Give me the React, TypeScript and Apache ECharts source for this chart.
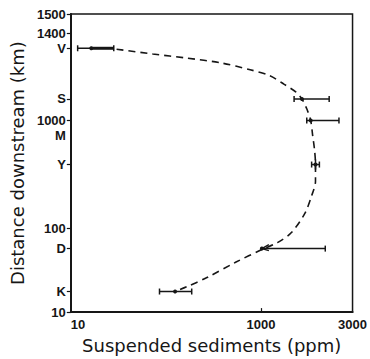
import React, { useEffect, useRef } from "react";
import * as echarts from "echarts";

// Y axis is a schematic (non-uniform) distance scale: positions in axis units (0 = bottom, 100 = top)
const yTickLabels = ["1500", "1400", "V", "S", "1000", "M", "Y", "100", "D", "K", "10"];
const yTickPos = [100, 93.4, 88.5, 71.5, 64.3, 59.4, 49.5, 28.2, 21.3, 6.9, 0];
const yTickHasMark = [true, true, true, true, true, false, true, true, true, true, true];

// X axis (log scale, ppm) tick labels as printed on the figure
const xTickLabels = ["10", "1000", "3000"];
const xMin = 10;
const xMax = 9200;
const xTickPos = [10, 1000, xMax];

// Stations: name, axis position, low, mean, high (ppm)
const stations = ["V", "S", "M", "Y", "D", "K"];
const stationPos = [88.5, 71.5, 64.3, 49.5, 21.3, 6.9];
const sedLow = [11.8, 2233, 3035, 3414, 1023, 85.7];
const sedMean = [16.4, 2700, 3337, 3750, 1023, 125];
const sedHigh = [28.3, 5224, 6622, 4121, 4753, 187];

// Dashed trend curve
const trendX = [30.3, 72.7, 166, 380, 771, 1236, 1762, 2339, 2700, 3035, 3337, 3500, 3665, 3750, 3750, 3414, 2897, 2080, 1493, 1023, 541, 267, 166, 125];
const trendY = [88.2, 86.6, 85.2, 83.6, 81.3, 79.3, 76.4, 73.8, 71.5, 68.2, 64.3, 59.3, 54.4, 49.5, 43.9, 39.0, 33.1, 26.6, 23.3, 21.0, 16.7, 11.5, 8.5, 6.9];

const INK = "#161616";
const FONT = "'Liberation Sans', Arial, sans-serif";
const NAME_FONT = "'DejaVu Sans', Verdana, sans-serif";

export default function App() {
  const ref = useRef<HTMLDivElement>(null);
  useEffect(() => {
    document.body.style.margin = "0";
    if (!ref.current) return;
    const chart = echarts.init(ref.current, null, { renderer: "svg" });
    const labelFor = (v: number) => {
      for (let i = 0; i < yTickPos.length; i++) if (Math.abs(yTickPos[i] - v) < 1e-6) return yTickLabels[i];
      return "";
    };
    const xLabelFor = (v: number) => {
      for (let i = 0; i < xTickPos.length; i++) if (Math.abs(xTickPos[i] - v) / xTickPos[i] < 1e-6) return xTickLabels[i];
      return "";
    };
    const barData = stations.map((s, i) => [stationPos[i], sedLow[i], sedMean[i], sedHigh[i], s]);
    chart.setOption({
      animation: false,
      backgroundColor: "#ffffff",
      grid: { left: 66, right: 15, top: 14, bottom: 40, show: true, borderColor: INK, borderWidth: 1.5 },
      xAxis: {
        type: "log",
        logBase: 10,
        min: xMin,
        max: xMax,
        name: "Suspended sediments (ppm)",
        nameLocation: "middle",
        nameGap: 18,
        nameTextStyle: { fontFamily: NAME_FONT, fontSize: 18, color: INK },
        axisLine: { show: true, lineStyle: { color: INK, width: 2 } },
        axisTick: { show: true, inside: true, length: 4, customValues: [1000], lineStyle: { color: INK, width: 1.2 } },
        axisLabel: {
          customValues: xTickPos,
          formatter: (v: number) => xLabelFor(v),
          fontFamily: FONT,
          fontSize: 13,
          fontWeight: "bold",
          color: INK,
          margin: 6,
          alignMinLabel: "left",
        },
        splitLine: { show: false },
        minorTick: { show: false },
      },
      yAxis: {
        type: "value",
        min: 0,
        max: 100,
        name: "Distance downstream (km)",
        nameLocation: "middle",
        nameGap: 39,
        nameTextStyle: { fontFamily: NAME_FONT, fontSize: 18, color: INK },
        axisLine: { show: true, lineStyle: { color: INK, width: 2 } },
        axisTick: {
          show: true,
          length: 4,
          customValues: yTickPos.filter((_, i) => yTickHasMark[i]),
          lineStyle: { color: INK, width: 1.2 },
        },
        axisLabel: {
          customValues: yTickPos,
          formatter: (v: number) => labelFor(v),
          fontFamily: FONT,
          fontSize: 13,
          fontWeight: "bold",
          color: INK,
          margin: 5,
        },
        splitLine: { show: false },
      },
      series: [
        {
          type: "line",
          data: trendX.map((x, i) => [x, trendY[i]]),
          smooth: 0.3,
          symbol: "none",
          lineStyle: { color: INK, width: 1.6, type: [7, 5] },
          z: 2,
        },
        {
          type: "custom",
          data: barData,
          encode: { x: [1, 2, 3], y: 0 },
          z: 3,
          renderItem: (params: any, api: any) => {
            const y = api.value(0);
            const lo = api.coord([api.value(1), y]);
            const mid = api.coord([api.value(2), y]);
            const hi = api.coord([api.value(3), y]);
            const name = barData[params.dataIndex][4];
            const cap = 3;
            const st = { stroke: INK, lineWidth: 1.5 };
            const children: any[] = [
              { type: "line", shape: { x1: lo[0], y1: lo[1], x2: hi[0], y2: hi[1] }, style: st },
              { type: "line", shape: { x1: hi[0], y1: hi[1] - cap, x2: hi[0], y2: hi[1] + cap }, style: st },
              { type: "circle", shape: { cx: mid[0], cy: mid[1], r: 2 }, style: { fill: INK } },
            ];
            if (name !== "D") {
              children.push({ type: "line", shape: { x1: lo[0], y1: lo[1] - cap, x2: lo[0], y2: lo[1] + cap }, style: st });
            } else {
              children.push({ type: "line", shape: { x1: mid[0], y1: mid[1], x2: mid[0] + 7, y2: mid[1] - 4 }, style: st });
              children.push({ type: "line", shape: { x1: mid[0], y1: mid[1], x2: mid[0] + 7, y2: mid[1] + 2 }, style: st });
            }
            if (name === "Y") {
              children.push({ type: "line", shape: { x1: mid[0], y1: mid[1] - 5, x2: mid[0], y2: mid[1] + 5 }, style: st });
            }
            if (name === "V") {
              children.push({ type: "line", shape: { x1: mid[0], y1: mid[1], x2: hi[0], y2: hi[1] }, style: { stroke: INK, lineWidth: 3 } });
            }
            return { type: "group", children };
          },
        },
      ],
    });
    return () => chart.dispose();
  }, []);
  return <div ref={ref} style={{ width: 370, height: 359 }} />;
}
